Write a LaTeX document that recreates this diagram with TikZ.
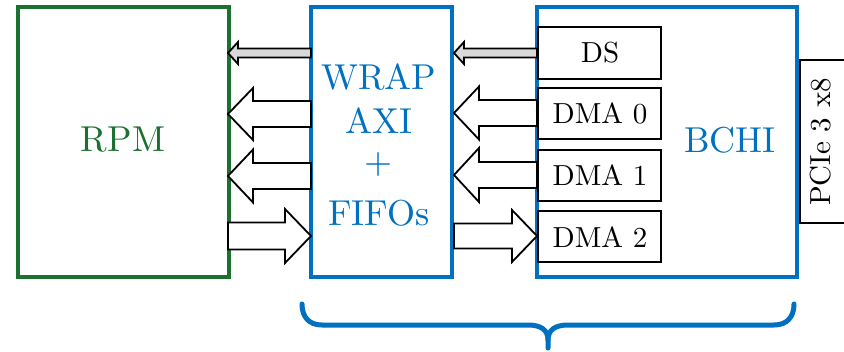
\documentclass[tikz,border=0pt]{standalone}
\usepackage{fontspec}
% keep the 10pt design size at every size
\setmainfont{lmroman10-regular.otf}
\definecolor{rpmgreen}{RGB}{28,112,48}
\definecolor{xblue}{RGB}{0,112,192}
\definecolor{lightgrey}{RGB}{217,217,217}
\tikzset{
  rpmbox/.style={draw=rpmgreen,line width=4pt},
  bluebox/.style={draw=xblue,line width=4pt},
  chanbox/.style={draw=black,line width=2pt,fill=white},
  bigarrow/.style={draw=black,line width=1.8pt,fill=white,line join=miter},
  thinarrow/.style={draw=black,line width=1.8pt,fill=lightgrey,line join=miter},
  bigtext/.style={font=\fontsize{36}{40}\selectfont,inner sep=0pt},
  chantext/.style={font=\fontsize{29}{32}\selectfont,inner sep=0pt},
  brace/.style={draw=xblue,line width=5pt,line cap=round,line join=round},
}
% horizontal block arrow: style, tail x, tip x, y, head-base x, shaft half height, head half height
\newcommand\blkarrow[7]{%
  \draw[#1] (#2,#4-#6) -- (#5,#4-#6) -- (#5,#4-#7) -- (#3,#4)
    -- (#5,#4+#7) -- (#5,#4+#6) -- (#2,#4+#6) -- cycle;}
\begin{document}
\begin{tikzpicture}[x=1pt,y=-1pt]
\useasboundingbox (0,0) rectangle (844,351);

% main blocks
\draw[rpmbox] (18,7) rectangle (229,277);
\draw[bluebox] (311,7) rectangle (452,277);
\draw[bluebox] (537,7) rectangle (797,277);

\node[bigtext,text=rpmgreen] (rpm) at (123,140) {RPM};
\node[bigtext,text=xblue,anchor=base] (wrap) at (379,89) {WRAP};
\node[bigtext,text=xblue,anchor=base] (axi) at (379,133) {AXI};
\node[bigtext,text=xblue] (plus) at (379,164) {+};
\node[bigtext,text=xblue,anchor=base] (fifos) at (379,225) {FIFOs};
\node[bigtext,text=xblue] (bchi) at (730,140) {BCHI};

% channel boxes inside BCHI
\draw[chanbox] (538,27) rectangle (661,79);
\draw[chanbox] (538,88) rectangle (661,139);
\draw[chanbox] (538,150) rectangle (661,201);
\draw[chanbox] (538,211) rectangle (661,262);
\node[chantext] (ds) at (600,53) {DS};
\node[chantext] (dma0) at (600,113.5) {DMA 0};
\node[chantext] (dma1) at (600,175.5) {DMA 1};
\node[chantext] (dma2) at (600,237) {DMA 2};

% host link
\draw[draw=black,line width=2pt] (846,60) -- (800,60) -- (800,223) -- (846,223);
\node[font=\fontsize{29}{32}\selectfont,inner sep=0pt,rotate=90] (pcie) at (821,142)
  {PCIe 3 x8};

% arrows between RPM and the wrapper
\blkarrow{thinarrow}{311}{228}{53}{238}{4.5}{11}
\blkarrow{bigarrow}{311}{228}{114}{253}{13}{26}
\blkarrow{bigarrow}{311}{228}{176}{253}{13}{26.5}
\blkarrow{bigarrow}{228}{311}{236}{285}{13.5}{27}

% arrows between the wrapper and BCHI
\blkarrow{thinarrow}{537}{454}{53}{464}{4.5}{11}
\blkarrow{bigarrow}{537}{454}{113}{479}{13}{26.5}
\blkarrow{bigarrow}{537}{454}{175}{479}{13}{27}
\blkarrow{bigarrow}{454}{537}{236}{512}{12.5}{26}

% brace under wrapper and BCHI
\draw[brace] (302,304) .. controls (302,317) and (309,325) .. (322,325)
  -- (528,325) .. controls (541,325) and (548,330) .. (548,340) -- (548,348);
\draw[brace] (794,304) .. controls (794,317) and (787,325) .. (774,325)
  -- (568,325) .. controls (555,325) and (548,330) .. (548,340);
\end{tikzpicture}
\end{document}
